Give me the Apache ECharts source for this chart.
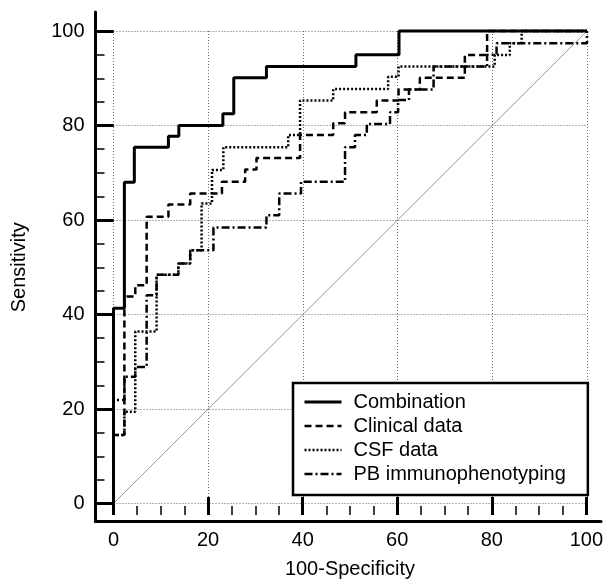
<!DOCTYPE html>
<html><head><meta charset="utf-8">
<script src="https://cdn.jsdelivr.net/npm/echarts@6/dist/echarts.min.js"></script>
<style>html,body{margin:0;padding:0;background:#fff}#c{width:606px;height:580px}</style>
</head><body><div id="c"></div>
<script>
// ---- data (100-Specificity, Sensitivity) ----
const seriesNames = ['Combination', 'Clinical data', 'CSF data', 'PB immunophenotyping'];
const combination = [[0,0],[0,41.3],[2.3,41.3],[2.3,68.0],[4.4,68.0],[4.4,75.4],[11.6,75.4],[11.6,77.7],[13.8,77.7],[13.8,80.0],[23.1,80.0],[23.1,82.5],[25.4,82.5],[25.4,90.1],[32.3,90.1],[32.3,92.5],[51.2,92.5],[51.2,95.0],[60.3,95.0],[60.3,100],[100,100]];
const clinical = [[0,0],[0,14.5],[2.3,14.5],[2.3,43.8],[4.6,43.8],[4.6,46.2],[7.0,46.2],[7.0,60.7],[11.6,60.7],[11.6,63.3],[16.2,63.3],[16.2,65.6],[22.9,65.6],[22.9,68.1],[27.8,68.1],[27.8,70.7],[30.2,70.7],[30.2,73.1],[39.4,73.1],[39.4,78.0],[46.4,78.0],[46.4,80.5],[48.9,80.5],[48.9,82.8],[55.6,82.8],[55.6,85.3],[60.2,85.3],[60.2,87.6],[64.7,87.6],[64.7,90.1],[74.2,90.1],[74.2,94.9],[78.9,94.9],[78.9,100],[100,100]];
const csf = [[0,0],[0,14.5],[2.3,14.5],[2.3,19.4],[4.6,19.4],[4.6,36.4],[9.1,36.4],[9.1,48.4],[13.7,48.4],[13.7,50.8],[16.2,50.8],[16.2,53.6],[18.6,53.6],[18.6,63.5],[20.8,63.5],[20.8,70.6],[23.2,70.6],[23.2,75.4],[36.9,75.4],[36.9,78.0],[39.4,78.0],[39.4,85.3],[46.4,85.3],[46.4,87.7],[58.0,87.7],[58.0,90.3],[60.2,90.3],[60.2,92.5],[80.5,92.5],[80.5,94.9],[83.7,94.9],[83.7,97.4],[86.2,97.4],[86.2,100],[100,100]];
const pb = [[0,0],[0,21.9],[2.3,21.9],[2.3,26.8],[4.6,26.8],[4.6,28.9],[7.0,28.9],[7.0,44.1],[9.1,44.1],[9.1,48.4],[13.7,48.4],[13.7,50.8],[16.2,50.8],[16.2,53.6],[21.1,53.6],[21.1,58.4],[32.3,58.4],[32.3,61.0],[35.0,61.0],[35.0,65.6],[39.6,65.6],[39.6,68.1],[48.9,68.1],[48.9,75.4],[51.0,75.4],[51.0,78.0],[53.5,78.0],[53.5,80.3],[58.4,80.3],[58.4,82.8],[60.1,82.8],[60.1,85.4],[62.4,85.4],[62.4,87.6],[67.6,87.6],[67.6,92.5],[78.9,92.5],[78.9,95.0],[80.9,95.0],[80.9,97.4],[100,97.4],[100,100]];
const reference = [[0,0],[100,100]];
const axisMin = 0, axisMax = 100, axisStep = 20;

const FONT = 'Liberation Sans, Arial, sans-serif';
const chart = echarts.init(document.getElementById('c'), null, {renderer: 'canvas'});

const hidden = (gi) => ({type: 'value', min: axisMin, max: axisMax, gridIndex: gi, show: false});
// data axes: only dotted grid lines
function gridAxis(gi) {
  return {
    type: 'value', min: axisMin, max: axisMax, interval: axisStep, gridIndex: gi,
    axisLine: {show: false}, axisTick: {show: false}, axisLabel: {show: false},
    splitLine: {show: true, interval: 0, lineStyle: {color: '#666', width: 1, type: [1, 2]}}
  };
}
// tick strip axes: major ticks span the 18px strip, minor ticks inside
function tickAxis(gi, extra) {
  return Object.assign({
    type: 'value', min: axisMin, max: axisMax, interval: axisStep, gridIndex: gi,
    axisLine: {show: false, onZero: false},
    axisTick: {show: true, inside: true, interval: 0, length: 18, lineStyle: {color: '#000', width: 3}},
    minorTick: {show: true, splitNumber: 4, length: 9, lineStyle: {color: '#000', width: 1.5}},
    splitLine: {show: true, interval: 0, showMinLine: true, showMaxLine: true,
      lineStyle: {color: '#000', width: 3, type: 'solid'}},
    nameLocation: 'middle',
    nameMoveOverlap: false,
    nameTextStyle: {color: '#000', fontSize: 20, fontFamily: FONT}
  }, extra);
}
function frameAxis(gi) {
  return {
    type: 'value', min: 0, max: 1, gridIndex: gi,
    axisLine: {show: true, onZero: false, lineStyle: {color: '#000', width: 3}},
    axisTick: {show: false}, axisLabel: {show: false}, splitLine: {show: false}
  };
}

const lineBase = (name, data, type, width, z) => ({
  name, type: 'line', data, xAxisIndex: 0, yAxisIndex: 0,
  symbol: 'none', clip: false, silent: true, z,
  itemStyle: {color: '#000'},
  lineStyle: {color: '#000', width, type}
});

chart.setOption({
  animation: false,
  backgroundColor: '#fff',
  grid: [
    {left: 113.5, right: 19, top: 31, bottom: 76.5},    // data
    {left: 113.5, right: 19, top: 503.5, bottom: 58.5}, // x tick strip
    {left: 95.5, right: 492.5, top: 31, bottom: 76.5},  // y tick strip
    {left: 95.5, right: 5, top: 12, bottom: 58.5}       // frame
  ],
  xAxis: [
    gridAxis(0),
    tickAxis(1, {name: '100-Specificity', nameGap: 44,
      axisLabel: {color: '#000', fontSize: 20, fontFamily: FONT, margin: 15, interval: 0}}),
    hidden(2),
    frameAxis(3)
  ],
  yAxis: [
    gridAxis(0),
    hidden(1),
    tickAxis(2, {name: 'Sensitivity', nameGap: 66, nameRotate: 90,
      axisLabel: {color: '#000', fontSize: 20, fontFamily: FONT, margin: 11, interval: 0}}),
    frameAxis(3)
  ],
  legend: {
    orient: 'vertical', left: 293, top: 383,
    padding: [9, 22, 11, 10],
    itemWidth: 37, itemHeight: 14, itemGap: 4,
    borderColor: '#000', borderWidth: 2.5, backgroundColor: '#fff',
    data: [
      {name: seriesNames[0], lineStyle: {width: 3}},
      {name: seriesNames[1], lineStyle: {width: 2.5}},
      {name: seriesNames[2], lineStyle: {width: 2.5}},
      {name: seriesNames[3], lineStyle: {width: 2.5}}
    ],
    selectedMode: false,
    itemStyle: {color: 'rgba(0,0,0,0)', borderWidth: 0, opacity: 0},
    textStyle: {color: '#000', fontSize: 20, fontFamily: FONT, lineHeight: 20, padding: [0, 0, 0, 7]}
  },
  series: [
    {type: 'line', data: reference, symbol: 'none', silent: true, clip: false, z: 1,
     lineStyle: {color: '#999', width: 1}},
    lineBase(seriesNames[3], pb, [8, 3, 2, 3], 2.5, 2),
    lineBase(seriesNames[2], csf, [2, 2], 2.5, 3),
    lineBase(seriesNames[1], clinical, [7, 4], 2.5, 4),
    lineBase(seriesNames[0], combination, 'solid', 3, 5)
  ]
});
</script></body></html>
